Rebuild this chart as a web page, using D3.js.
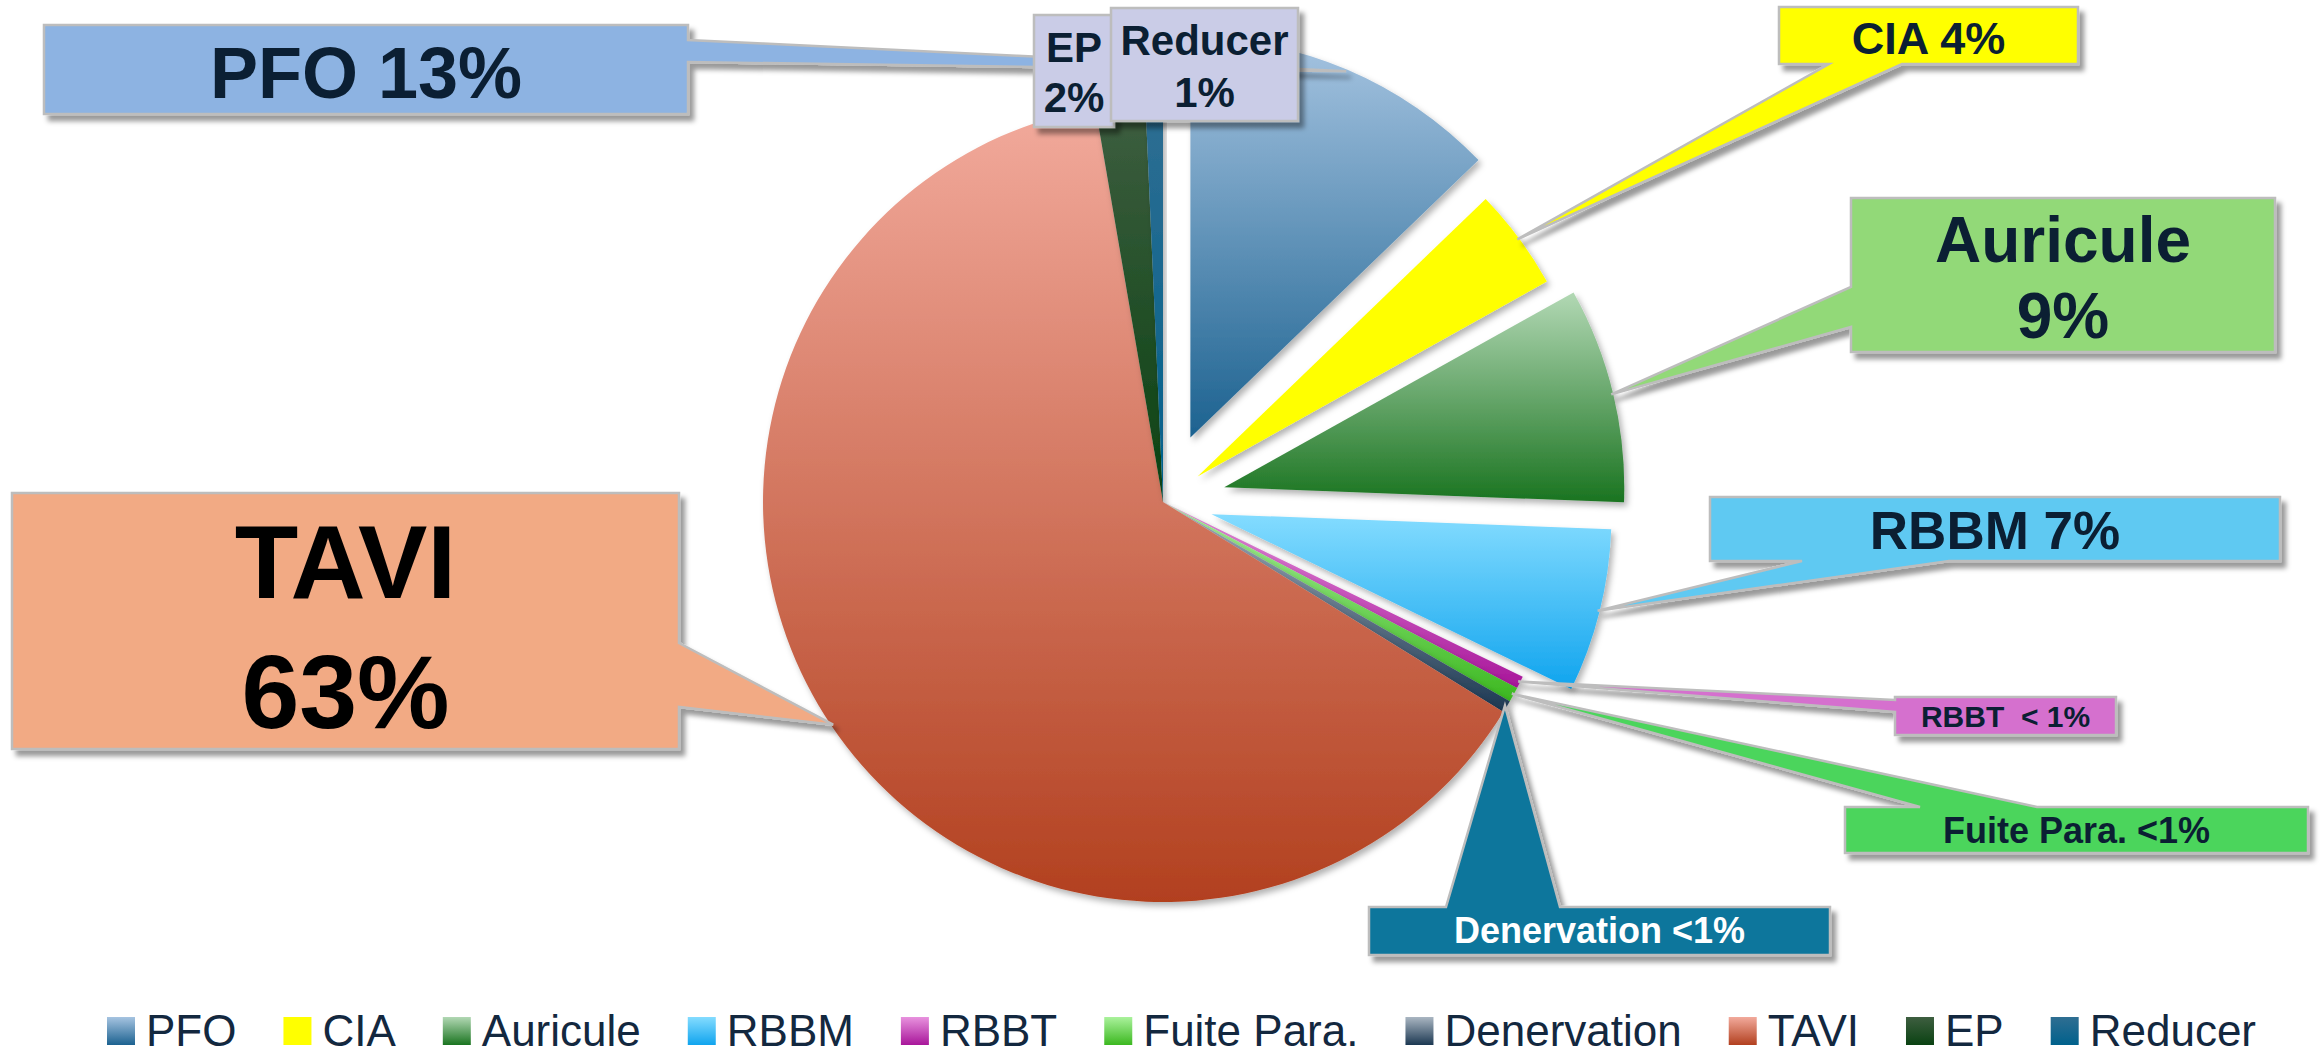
<!DOCTYPE html>
<html><head><meta charset="utf-8">
<script src="https://cdn.jsdelivr.net/npm/d3@7"></script>
<style>body{margin:0;background:#fff} svg{display:block}</style>
</head><body>
<svg id="chart" width="2321" height="1057"></svg>
<script>
// ---------- data ----------
const categories = ["PFO","CIA","Auricule","RBBM","RBBT","Fuite Para.","Denervation","TAVI","EP","Reducer"];
const values     = [12.8, 4.1, 8.7, 6.6, 0.5, 0.6, 0.5, 63.5, 2.0, 0.7];
const labelLines = [["PFO 13%"],["CIA 4%"],["Auricule","9%"],["RBBM 7%"],["RBBT  < 1%"],["Fuite Para. <1%"],["Denervation <1%"],["TAVI","63%"],["EP","2%"],["Reducer","1%"]];

// ---------- styles ----------
const gradTop    = ["#A6C4E1","#FFFF00","#B2D8B4","#84DCFF","#E892DE","#AAF29C","#AAB6C2","#F2AA9C","#3E5E40","#2F6E92"];
const gradBottom = ["#1C6290","#FFFF00","#1A7420","#10A4EE","#A8169A","#3CB820","#1C3852","#B2401F","#0A4212","#00618C"];
const boxFill    = ["#8DB3E2","#FFFF00","#92D978","#5FC9F2","#D56FCE","#4CD55C","#0E769C","#F2AA84","#CACCE7","#CACCE7"];
const textFill   = ["#0B1F33","#0B1F33","#0B1F33","#0B1F33","#0B1F33","#0B1F33","#FFFFFF","#000000","#0B1F33","#0B1F33"];
const explode    = [70, 43, 63, 50, 0, 0, 0, 0, 0, 0];
const fontSize   = [72, 45, 64, 53, 30, 36, 36, 104, 42, 42];
const boxes = [
  {x0:44,  y0:25,  x1:688,  y1:114, base:[98],        ptr:{edge:"right", a:40,  b:62}},
  {x0:1779,y0:7,   x1:2078, y1:64,  base:[54],        ptr:{edge:"bottom",a:1829,b:1902}},
  {x0:1851,y0:198, x1:2275, y1:352, base:[262,338],   ptr:{edge:"left",  a:287, b:327}},
  {x0:1710,y0:497, x1:2280, y1:561, base:[549],       ptr:{edge:"bottom",a:1802,b:1949}},
  {x0:1895,y0:697, x1:2116, y1:735, base:[727],       ptr:{edge:"left",  a:700, b:712}},
  {x0:1845,y0:807, x1:2308, y1:853, base:[843],       ptr:{edge:"top",   a:1920,b:2037}},
  {x0:1369,y0:907, x1:1830, y1:955, base:[943],       ptr:{edge:"top",   a:1446,b:1560}},
  {x0:12,  y0:493, x1:679,  y1:749, base:[598,728],   ptr:{edge:"right", a:643, b:707}},
  {x0:1034,y0:15,  x1:1114, y1:127, base:[62,112],    ptr:null},
  {x0:1111,y0:8,   x1:1298, y1:121, base:[55,107],    ptr:null}
];
const drawOrder = [0,1,2,3,4,5,6,7,8,9];

const cx = 1163, cy = 502, R = 400;
const svg = d3.select("#chart");
const defs = svg.append("defs");

categories.forEach((c,i)=>{
  const g = defs.append("linearGradient").attr("id","g"+i)
    .attr("x1",0).attr("y1",0).attr("x2",0).attr("y2",1);
  g.append("stop").attr("offset","0%").attr("stop-color",gradTop[i]);
  g.append("stop").attr("offset","100%").attr("stop-color",gradBottom[i]);
});
const f1 = defs.append("filter").attr("id","pieShadow").attr("x","-20%").attr("y","-20%").attr("width","140%").attr("height","140%");
f1.append("feDropShadow").attr("dx",3).attr("dy",4).attr("stdDeviation",3).attr("flood-color","#000").attr("flood-opacity",0.3);
const f2 = defs.append("filter").attr("id","boxShadow").attr("x","-20%").attr("y","-20%").attr("width","140%").attr("height","160%");
f2.append("feDropShadow").attr("dx",5).attr("dy",6).attr("stdDeviation",2.5).attr("flood-color","#000").attr("flood-opacity",0.4);

const pie = d3.pie().sort(null).value(d=>d);
const arcs = pie(values);
const arc = d3.arc().innerRadius(0).outerRadius(R);

const pieG = svg.append("g").attr("transform",`translate(${cx},${cy})`);
const sliceInfo = arcs.map((a,i)=>{
  const mid = (a.startAngle + a.endAngle)/2;
  const ox = explode[i]*Math.sin(mid), oy = -explode[i]*Math.cos(mid);
  return {a, mid, ox, oy,
    tip:[cx+ox+(R-2)*Math.sin(mid), cy+oy-(R-2)*Math.cos(mid)]};
});
pieG.selectAll("path.slice").data(sliceInfo).join("path")
  .attr("class","slice")
  .attr("d",d=>arc(d.a))
  .attr("transform",d=>`translate(${d.ox},${d.oy})`)
  .attr("fill",(d,i)=>`url(#g${i})`)
  .attr("filter","url(#pieShadow)");

function calloutPath(b, ptr, tip){
  const pts=[[b.x0,b.y0]];
  if(ptr&&ptr.edge==="top") pts.push([ptr.a,b.y0],tip,[ptr.b,b.y0]);
  pts.push([b.x1,b.y0]);
  if(ptr&&ptr.edge==="right") pts.push([b.x1,ptr.a],tip,[b.x1,ptr.b]);
  pts.push([b.x1,b.y1]);
  if(ptr&&ptr.edge==="bottom") pts.push([ptr.b,b.y1],tip,[ptr.a,b.y1]);
  pts.push([b.x0,b.y1]);
  if(ptr&&ptr.edge==="left") pts.push([b.x0,ptr.b],tip,[b.x0,ptr.a]);
  return d3.line()(pts)+"Z";
}

const calG = svg.append("g");
drawOrder.forEach(i=>{
  const b = boxes[i];
  const g = calG.append("g");
  g.append("path").attr("d",calloutPath(b,b.ptr,sliceInfo[i].tip))
    .attr("fill",boxFill[i]).attr("stroke","#BDBDBD").attr("stroke-width",2.5)
    .attr("stroke-linejoin","miter").attr("filter","url(#boxShadow)");
  const xc = (b.x0+b.x1)/2;
  labelLines[i].forEach((t,k)=>{
    g.append("text").attr("x",xc).attr("y",b.base[k])
      .attr("text-anchor","middle")
      .style("white-space","pre")
      .attr("font-family","'Liberation Sans', Arial, Helvetica, sans-serif")
      .attr("font-weight","bold").attr("font-size",fontSize[i])
      .attr("fill",textFill[i]).text(t);
  });
});

// ---------- legend ----------
const legG = svg.append("g");
const items = legG.selectAll("g.item").data(categories).join("g").attr("class","item");
items.append("rect").attr("x",0).attr("y",1017).attr("width",28).attr("height",28)
  .attr("fill",(d,i)=>`url(#g${i})`);
items.append("text").attr("x",39).attr("y",1046)
  .attr("font-family","'Liberation Sans', Arial, Helvetica, sans-serif")
  .attr("font-size",44).attr("fill","#13283F").text(d=>d);
const legStart = 107, legEnd = 2256;
const itemW = [];
items.each(function(){ itemW.push(39 + this.querySelector("text").getComputedTextLength()); });
const gap = (legEnd - legStart - d3.sum(itemW)) / (itemW.length - 1);
let xpos = legStart;
items.each(function(d,i){
  d3.select(this).attr("transform",`translate(${xpos},0)`);
  xpos += itemW[i] + gap;
});
</script>
</body></html>
